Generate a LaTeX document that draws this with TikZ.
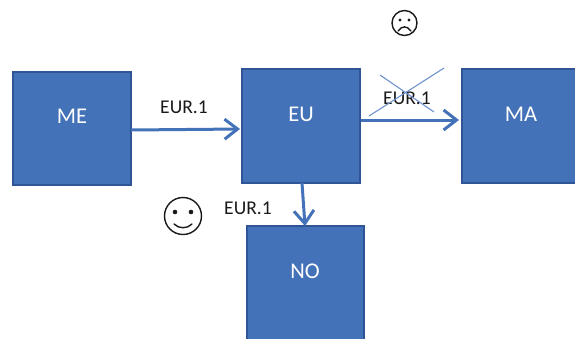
\documentclass[tikz,border=0pt]{standalone}
\usepackage{fontspec}
\setmainfont{Carlito}
\usetikzlibrary{arrows.meta}
\definecolor{boxfill}{HTML}{4472B8}
\definecolor{boxedge}{HTML}{2F5597}
\definecolor{crossline}{HTML}{6F92CC}
\tikzset{
  x=1pt,y=-1pt,
  boxnode/.style={draw=boxedge,line width=1.8pt,fill=boxfill,inner sep=0pt,outer sep=0pt,minimum width=118pt,minimum height=114pt},
  boxtext/.style={inner sep=0pt,text=white,font=\fontsize{22.5}{26}\selectfont},
  flow/.style={draw=boxfill,line width=3pt,-{Straight Barb[length=13pt,width=20pt,line width=3pt]}},
  lbl/.style={inner sep=0pt,text=black!90,font=\fontsize{19.5}{23}\selectfont},
  crossl/.style={draw=crossline,line width=1.1pt},
  facel/.style={draw=black!90,line width=1.4pt,line cap=round}
}
\begin{document}
\begin{tikzpicture}
\useasboundingbox (0,0) rectangle (575,338);
\begin{scope}
\clip (0,0) rectangle (575,338);
\node[boxnode,minimum height=113pt] (me) at (72,128.5) {};
\node[boxtext] (melabel) at (72,116.5) {ME};
\node[boxnode] (eu) at (301,126) {};
\node[boxtext] (eulabel) at (301,114) {EU};
\node[boxnode] (ma) at (521,126) {};
\node[boxtext] (malabel) at (521,114) {MA};
\node[boxnode,minimum width=117pt,minimum height=119pt] (no) at (305.5,285.5) {};
\node[boxtext] (nolabel) at (305,271) {NO};
\end{scope}
\draw[flow] ([yshift=-1.5pt]me.east) -- ([xshift=-2pt,yshift=-3pt]eu.west);
\draw[flow] ([xshift=1pt,yshift=6pt]eu.east) -- ([xshift=-3pt,yshift=6pt]ma.west);
\draw[flow] ([xshift=1pt]eu.south) -- ([xshift=-0.5pt]no.north);
\node[lbl] (l1) at (184,107.5) {EUR.1};
\node[lbl] (l2) at (407,98) {EUR.1};
\node[lbl] (l3) at (248,208.5) {EUR.1};
\coordinate (xa) at (369,116);
\coordinate (xb) at (444,68);
\coordinate (xc) at (380,75);
\coordinate (xd) at (434,112);
\draw[crossl] (xa) -- (xb);
\draw[crossl] (xc) -- (xd);
% frown
\draw[facel] (404.5,23) circle (12.5);
\fill[black!90] (400,20) circle (1.6) (409,20) circle (1.6);
\draw[facel] (398,31) .. controls (402,25.5) and (407,25.5) .. (411,31);
% smile
\draw[facel] (183,216) circle (18.5);
\fill[black!90] (175,212) circle (2.3) (191,212) circle (2.3);
\draw[facel] (174,224) .. controls (179,229) and (187,229) .. (192,224);
\end{tikzpicture}
\end{document}
